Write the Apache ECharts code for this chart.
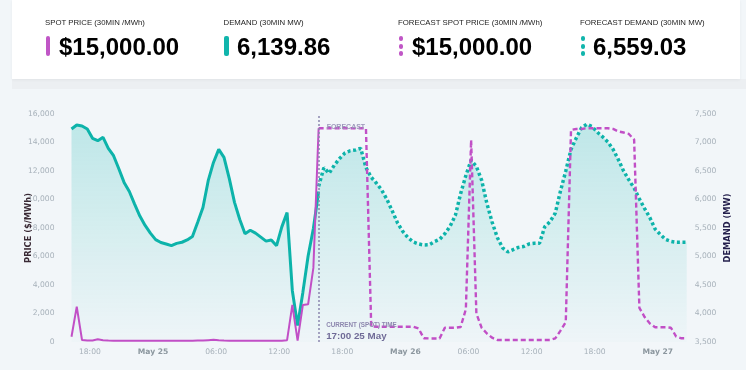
<!DOCTYPE html>
<html>
<head>
<meta charset="utf-8">
<script src="https://cdn.jsdelivr.net/npm/echarts@6/dist/echarts.min.js"></script>
<style>
  html, body { margin:0; padding:0; width:746px; height:370px; overflow:hidden; background:#f2f6f9; }
  #chart { position:absolute; left:0; top:0; width:746px; height:370px; }
  #card { position:absolute; left:12px; top:0; width:728px; height:79px; background:#fff; box-shadow:0 1px 3px rgba(0,0,0,0.05); }
  #band { position:absolute; left:12px; top:79px; width:734px; height:10px; background:#eceff2; }
  .lbl { position:absolute; top:19px; font-family:"Liberation Sans", Arial, sans-serif; font-size:7.8px; line-height:7.8px; color:#1c1c1c; white-space:nowrap; }
  .val { position:absolute; top:34.5px; font-family:"Liberation Sans", Arial, sans-serif; font-weight:bold; font-size:24px; line-height:24px; color:#000; white-space:nowrap; }
  .bar { position:absolute; top:36px; width:4.5px; height:20px; border-radius:2px; }
  .dot { position:absolute; width:4.5px; height:5px; border-radius:2px; }
</style>
</head>
<body>
<div id="chart"></div>
<div id="band"></div>
<div id="card"></div>
<div id="hdr"></div>
<script>
// ---- data ----
const actualStart = [2024, 4, 24, 16, 15];   // 16:15 24 May, 30-min intervals
const forecastStart = [2024, 4, 25, 15, 45]; // 15:45 25 May, 30-min intervals
const stepMs = 30 * 60 * 1000;

// x-axis tick labels (every 6 hours)
const xTicks = [
  [2024, 4, 24, 18], [2024, 4, 25, 0], [2024, 4, 25, 6], [2024, 4, 25, 12], [2024, 4, 25, 18],
  [2024, 4, 26, 0], [2024, 4, 26, 6], [2024, 4, 26, 12], [2024, 4, 26, 18], [2024, 4, 27, 0]
];

const actualDemand = [7237, 7307, 7290, 7237, 7073, 7032, 7091, 6898, 6768, 6540,
  6300, 6140, 5920, 5710, 5545, 5410, 5295, 5245, 5220, 5190,
  5230, 5250, 5290, 5350, 5600, 5860, 6330, 6650, 6880, 6740,
  6370, 5950, 5650, 5400, 5460, 5410, 5340, 5270, 5290, 5190,
  5520, 5770, 4400, 3790, 4370, 5010, 5490, 6139.86];

const actualPrice = [370, 2480, 140, 100, 110, 190, 130, 100, 95, 90,
  90, 90, 90, 90, 90, 90, 90, 90, 90, 90,
  90, 90, 90, 90, 100, 110, 130, 150, 120, 100,
  90, 90, 90, 90, 90, 90, 90, 90, 90, 90,
  90, 130, 2600, 100, 2600, 2650, 5200, 15000];

const forecastDemand = [6230, 6559.03, 6460, 6605, 6720, 6815, 6855, 6868, 6898, 6560,
  6390, 6285, 6165, 6000, 5800, 5590, 5440, 5330, 5255, 5220,
  5202, 5205, 5260, 5300, 5400, 5530, 5720, 6100, 6420, 6690,
  6580, 6340, 5930, 5600, 5330, 5150, 5080, 5120, 5160, 5175,
  5220, 5231, 5231, 5520, 5610, 5760, 6150, 6500, 6880, 7080,
  7260, 7319, 7280, 7180, 7100, 7010, 6880, 6700, 6500, 6345,
  6200, 6010, 5840, 5680, 5480, 5385, 5300, 5265, 5249, 5249, 5249];

const forecastPrice = [15000, 15000, 15000, 15000, 15000, 15000, 15000, 15000, 15000, 15000,
  1100, 1075, 1075, 1075, 1075, 1075, 1075, 1075, 1075, 950,
  260, 250, 250, 250, 1000, 1000, 1000, 1050, 2300, 14175,
  2000, 1000, 600, 300, 140, 140, 140, 140, 140, 140,
  140, 140, 140, 140, 140, 250, 800, 1400, 14880, 14950,
  14950, 15000, 15000, 15000, 15000, 15000, 14950, 14780, 14700, 14600,
  14200, 2400, 1750, 1300, 1030, 1030, 1030, 1000, 380, 260, 260];

const priceTicks = { min: 0, max: 16000, interval: 2000 };
const demandTicks = { min: 3500, max: 7500, interval: 500 };
const months = ['Jan','Feb','Mar','Apr','May','Jun','Jul','Aug','Sep','Oct','Nov','Dec'];

const header = [
  { label: 'SPOT PRICE (30MIN /MWh)', value: '$15,000.00', color: '#c056c6', dotted: false, lx: 45, bx: 45.5, vx: 59 },
  { label: 'DEMAND (30MIN MW)', value: '6,139.86', color: '#11b5ac', dotted: false, lx: 223.5, bx: 224, vx: 237 },
  { label: 'FORECAST SPOT PRICE (30MIN /MWh)', value: '$15,000.00', color: '#c056c6', dotted: true, lx: 398, bx: 398.5, vx: 412 },
  { label: 'FORECAST DEMAND (30MIN MW)', value: '6,559.03', color: '#11b5ac', dotted: true, lx: 580, bx: 580.5, vx: 593 }
];
const currentLabel = 'CURRENT (SPOT) TIME';
const currentTimeText = '17:00 25 May';
const forecastText = 'FORECAST';

// ---- header ----
const hdr = document.getElementById('hdr');
header.forEach(h => {
  let html = '<div class="lbl" style="left:' + h.lx + 'px">' + h.label + '</div>';
  if (h.dotted) {
    [36, 43.5, 51].forEach(t => { html += '<div class="dot" style="left:' + h.bx + 'px;top:' + t + 'px;background:' + h.color + '"></div>'; });
  } else {
    html += '<div class="bar" style="left:' + h.bx + 'px;background:' + h.color + '"></div>';
  }
  html += '<div class="val" style="left:' + h.vx + 'px">' + h.value + '</div>';
  hdr.insertAdjacentHTML('beforeend', html);
});

// ---- chart ----
function toMs(a) { return new Date(a[0], a[1], a[2], a[3], a[4] || 0).getTime(); }
const aT = toMs(actualStart), fT = toMs(forecastStart);
const pairs = (start, arr) => arr.map((v, i) => [start + i * stepMs, v]);
const xMin = aT, xMax = fT + (forecastDemand.length - 1) * stepMs;
const tickValues = xTicks.map(toMs);

const teal = '#0db3aa', purple = '#c14fc6';
const areaGrad = () => new echarts.graphic.LinearGradient(0, 0, 0, 1, [
  { offset: 0, color: 'rgba(0,178,169,0.30)' },
  { offset: 1, color: 'rgba(0,178,169,0.02)' }
]);
const pad = n => (n < 10 ? '0' : '') + n;
function fmtTime(val) {
  const d = new Date(val);
  if (d.getHours() === 0 && d.getMinutes() === 0) return '{b|' + months[d.getMonth()] + ' ' + d.getDate() + '}';
  return pad(d.getHours()) + ':' + pad(d.getMinutes());
}

const chart = echarts.init(document.getElementById('chart'), null, { renderer: 'canvas' });
chart.setOption({
  animation: false,
  backgroundColor: 'transparent',
  grid: { left: 71.5, right: 59.3, top: 114, bottom: 28, containLabel: false },
  xAxis: {
    type: 'value', min: xMin, max: xMax, scale: true,
    axisLine: { show: false }, axisTick: { show: false }, splitLine: { show: false },
    axisLabel: {
      customValues: tickValues, margin: 6,
      fontFamily: 'DejaVu Sans', fontSize: 7.6, color: '#a7b1ba',
      formatter: fmtTime,
      rich: { b: { fontFamily: 'DejaVu Sans', fontSize: 7.6, fontWeight: 'bold', color: '#8c979f' } }
    }
  },
  yAxis: [
    {
      type: 'value', min: priceTicks.min, max: priceTicks.max, interval: priceTicks.interval,
      name: 'PRICE ($/MWh)', nameLocation: 'middle', nameGap: 39, nameRotate: 90, nameMoveOverlap: false,
      nameTextStyle: { fontFamily: 'DejaVu Sans', fontWeight: 'bold', fontSize: 8.3, color: '#3a2a35' },
      axisLine: { show: false }, axisTick: { show: false }, splitLine: { show: false },
      axisLabel: { margin: 17, fontFamily: 'DejaVu Sans', fontSize: 7.6, color: '#a7b1ba',
        formatter: v => v.toLocaleString('en-US') }
    },
    {
      type: 'value', min: demandTicks.min, max: demandTicks.max, interval: demandTicks.interval,
      name: 'DEMAND (MW)', nameLocation: 'middle', nameGap: 37, nameRotate: 90, nameMoveOverlap: false,
      nameTextStyle: { fontFamily: 'DejaVu Sans', fontWeight: 'bold', fontSize: 8.3, color: '#25204d' },
      axisLine: { show: false }, axisTick: { show: false }, splitLine: { show: false },
      axisLabel: { margin: 8, fontFamily: 'DejaVu Sans', fontSize: 7.6, color: '#a7b1ba',
        formatter: v => v.toLocaleString('en-US') }
    }
  ],
  series: [
    { name: 'Demand', type: 'line', yAxisIndex: 1, data: pairs(aT, actualDemand), showSymbol: false,
      lineStyle: { color: teal, width: 3 }, itemStyle: { color: teal }, areaStyle: { color: areaGrad() }, z: 2 },
    { name: 'Forecast demand', type: 'line', yAxisIndex: 1, data: pairs(fT, forecastDemand), showSymbol: false,
      lineStyle: { color: teal, width: 3.5, type: [3, 2.6], cap: 'butt' }, itemStyle: { color: teal },
      areaStyle: { color: areaGrad() }, z: 2 },
    { name: 'Spot price', type: 'line', yAxisIndex: 0, data: pairs(aT, actualPrice), showSymbol: false,
      lineStyle: { color: purple, width: 2 }, itemStyle: { color: purple }, z: 3 },
    { name: 'Forecast spot price', type: 'line', yAxisIndex: 0, data: pairs(fT, forecastPrice), showSymbol: false,
      lineStyle: { color: purple, width: 2.4, type: [5, 3] }, itemStyle: { color: purple }, z: 3,
      markLine: { silent: true, symbol: ['none', 'none'], label: { show: false },
        lineStyle: { color: '#8b86ae', width: 1.5, type: [2, 2] },
        data: [{ xAxis: fT }] } }
  ]
});

const px = chart.convertToPixel({ xAxisIndex: 0 }, fT);
const yTop = chart.convertToPixel({ yAxisIndex: 0 }, priceTicks.max);
const yBot = chart.convertToPixel({ yAxisIndex: 0 }, priceTicks.min);
chart.setOption({
  graphic: [
    { type: 'text', left: px + 8, top: yTop + 10, z: 10,
      style: { text: forecastText, fontFamily: 'Liberation Sans', fontSize: 7, fontWeight: 'bold', fill: '#9d98bb' } },
    { type: 'text', left: px + 7.5, top: yBot - 20, z: 10,
      style: { text: currentLabel, fontFamily: 'Liberation Sans', fontSize: 6.3, fontWeight: 'bold', fill: '#8d88af' } },
    { type: 'text', left: px + 7.5, top: yBot - 10.5, z: 10,
      style: { text: currentTimeText, fontFamily: 'Liberation Sans', fontSize: 9.8, fontWeight: 'bold', fill: '#6f6b97' } }
  ]
});
</script>
</body>
</html>
